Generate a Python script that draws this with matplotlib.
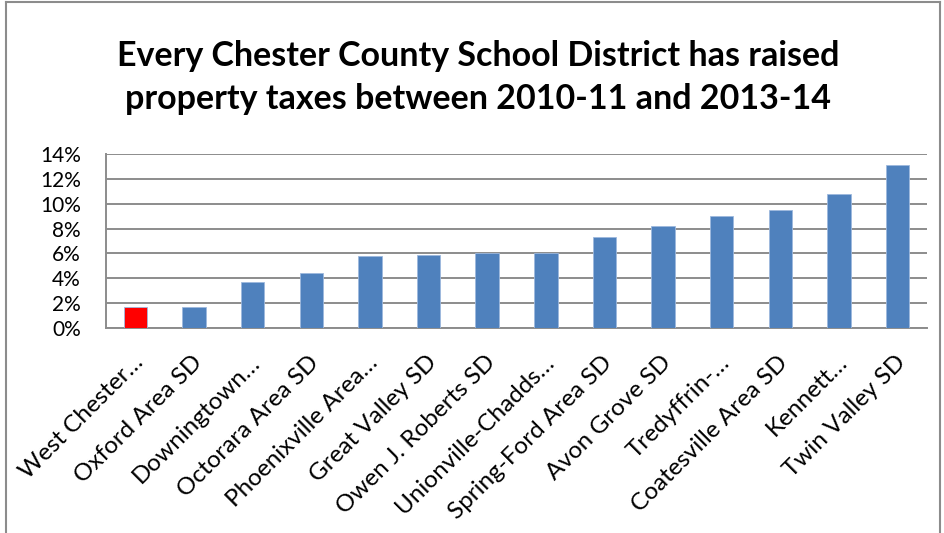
import matplotlib.pyplot as plt
import matplotlib.transforms as mtransforms
from matplotlib.ticker import PercentFormatter, MultipleLocator

# school districts and increase in property taxes 2010-11 to 2013-14
districts = ['West Chester…', 'Oxford Area SD', 'Downingtown…', 'Octorara Area SD',
             'Phoenixville Area…', 'Great Valley SD', 'Owen J. Roberts SD',
             'Unionville-Chadds…', 'Spring-Ford Area SD', 'Avon Grove SD',
             'Tredyffrin-…', 'Coatesville Area SD', 'Kennett…', 'Twin Valley SD']
increase = [1.7, 1.7, 3.7, 4.4, 5.8, 5.9, 6.0, 6.0, 7.3, 8.2, 9.0, 9.5, 10.8, 13.1]
highlight = 'West Chester…'

plt.rcParams['font.family'] = ['Lato', 'DejaVu Sans']

fig = plt.figure(figsize=(9.45, 5.33), dpi=100)
ax = fig.add_axes([106/945, 1-328/533, (927-106)/945, (328-154)/533])

colors = ['#FF0000' if d == highlight else '#4F81BD' for d in districts]
x = range(len(districts))
ax.bar(x, increase, width=0.4, color=colors, edgecolor='#9DB9DE', linewidth=0.6, zorder=3)

ax.set_ylim(0, 14)
ax.set_xlim(-0.5, len(districts) - 0.5)
ax.yaxis.set_major_locator(MultipleLocator(2))
ax.yaxis.set_major_formatter(PercentFormatter(decimals=0))
ax.grid(axis='y', color='#8C8C8C', linewidth=1.4, zorder=0)
ax.set_axisbelow(True)

for s in ['top', 'right']:
    ax.spines[s].set_visible(False)
for s in ['left', 'bottom']:
    ax.spines[s].set_color('#8C8C8C')
    ax.spines[s].set_linewidth(1.4)

ax.tick_params(axis='y', length=0, labelsize=15, pad=18)
ax.tick_params(axis='x', length=0, labelsize=17.5, pad=17)
ax.set_xticks(list(x))
ax.set_xticklabels(districts, rotation=45, ha='right', rotation_mode='anchor')
offset = mtransforms.ScaledTranslation(-3/100, 0, fig.dpi_scale_trans)
for lbl in ax.get_xticklabels():
    lbl.set_transform(lbl.get_transform() + offset)

fig.text(0.506, 1-77.5/533, 'Every Chester County School District has raised\nproperty taxes between 2010-11 and 2013-14',
         ha='center', va='center', fontsize=24.5, fontweight='bold', linespacing=1.4)

# chart border
fig.add_artist(plt.Line2D([6/945, 6/945], [0, 1-2/533], color='#8C8C8C', linewidth=1.5))
fig.add_artist(plt.Line2D([6/945, 940/945], [1-2/533, 1-2/533], color='#8C8C8C', linewidth=1.5))
fig.add_artist(plt.Line2D([940/945, 940/945], [0, 1-2/533], color='#8C8C8C', linewidth=1.5))

fig.savefig('out.png', dpi=100)
